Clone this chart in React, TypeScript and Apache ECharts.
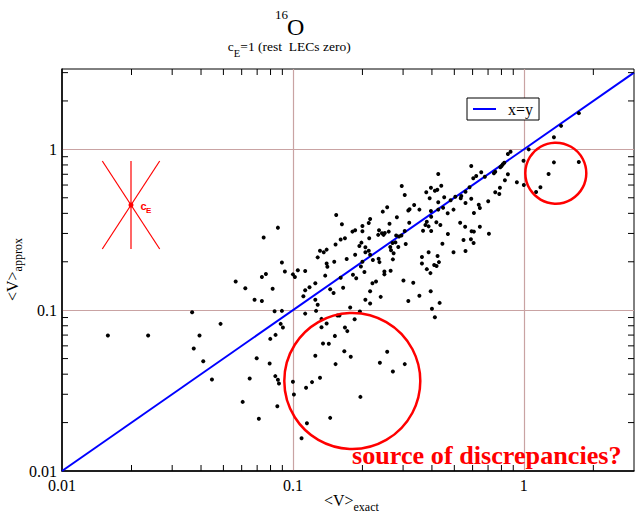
import React, { useEffect, useRef } from 'react';
import * as echarts from 'echarts';

// <V>_exact values of the points
const exactValues = [
  0.0158, 0.0236, 0.0366, 0.0394, 0.0486, 0.0372, 0.0409, 0.0446, 0.0565, 0.0622,
  0.0682, 0.0697, 0.065, 0.0606, 0.0712, 0.154, 0.163, 0.0861, 0.0747, 0.181,
  0.161, 0.168, 0.153, 0.131, 0.136, 0.140, 0.128, 0.171, 0.151, 0.140,
  0.141, 0.0896, 0.0923, 0.0764, 0.0734, 0.100, 0.102, 0.105, 0.113, 0.138,
  0.182, 0.161, 0.125, 0.118, 0.113, 0.145, 0.150, 0.165, 0.0817, 0.111,
  0.125, 0.128, 0.0734, 0.0833, 0.0896, 0.113, 0.126, 0.177, 0.133, 0.140,
  0.156, 0.159, 0.185, 0.426, 0.296, 0.305, 0.378, 0.396, 0.412, 0.422,
  0.439, 0.426, 0.391, 0.452, 0.447, 0.426, 0.396, 0.353, 0.335, 0.320,
  0.316, 0.256, 0.245, 0.282, 0.468, 0.397, 0.380, 0.375, 0.387, 0.418,
  0.435, 0.366, 0.397, 0.319, 0.262, 0.260, 0.247, 0.250, 0.243, 0.236,
  0.234, 0.216, 0.213, 0.200, 0.200, 0.186, 0.214, 0.280, 0.288, 0.295,
  0.305, 0.308, 0.264, 0.270, 0.278, 0.286, 0.198, 0.194, 0.206, 0.206,
  0.213, 0.216, 0.186, 0.266, 0.273, 0.271, 0.222, 0.235, 0.237, 0.200,
  0.197, 0.204, 0.188, 0.249, 0.249, 0.265, 0.362, 0.362, 0.387, 0.423,
  0.429, 0.409, 0.419, 0.469, 0.380, 0.394, 0.301, 0.332, 0.229, 0.221,
  0.216, 0.395, 0.353, 0.240, 0.206, 0.216, 0.316, 0.432, 0.400, 0.412,
  0.195, 0.876, 0.853, 1.05, 0.823, 0.811, 0.801, 0.791, 0.997, 0.752,
  0.742, 0.853, 0.592, 0.654, 0.622, 0.604, 0.678, 0.828, 0.933, 1.00,
  0.582, 0.788, 0.559, 0.752, 0.783, 1.13, 0.505, 0.536, 0.533, 0.592,
  0.482, 0.701, 0.559, 0.638, 0.645, 0.496, 0.608, 0.530, 0.557, 0.645,
  0.594, 0.608, 0.706, 0.548, 0.590, 0.606, 0.444, 0.496, 0.559, 1.73,
  1.45, 1.35, 1.35, 1.73, 1.28, 1.18, 0.0885, 0.0905, 0.133, 0.168,
  0.172, 0.0841, 0.0798, 0.152, 0.135, 0.143, 0.125, 0.167, 0.178, 0.256,
  0.238, 0.305, 0.271, 0.153, 0.0793, 0.0839, 0.0861, 0.0870, 0.100, 0.121,
  0.131, 0.114, 0.101, 0.196, 0.0856, 0.145, 0.115, 0.109,
];

// <V>_approx values of the same points
const approxValues = [
  0.0695, 0.0695, 0.0972, 0.0695, 0.0822, 0.0577, 0.0482, 0.0371, 0.151, 0.137,
  0.116, 0.0503, 0.0376, 0.0269, 0.0211, 0.391, 0.342, 0.326, 0.283, 0.308,
  0.275, 0.280, 0.256, 0.234, 0.229, 0.238, 0.213, 0.208, 0.200, 0.195,
  0.186, 0.198, 0.174, 0.168, 0.161, 0.167, 0.161, 0.177, 0.175, 0.164,
  0.166, 0.159, 0.147, 0.139, 0.133, 0.135, 0.128, 0.138, 0.136, 0.122,
  0.116, 0.108, 0.114, 0.0986, 0.099, 0.0952, 0.099, 0.104, 0.0883, 0.0826,
  0.0926, 0.0926, 0.0877, 0.703, 0.592, 0.520, 0.541, 0.577, 0.553, 0.560,
  0.594, 0.469, 0.496, 0.503, 0.434, 0.422, 0.414, 0.422, 0.451, 0.424,
  0.417, 0.436, 0.410, 0.378, 0.401, 0.381, 0.355, 0.339, 0.332, 0.352,
  0.339, 0.312, 0.311, 0.350, 0.345, 0.308, 0.294, 0.302, 0.301, 0.314,
  0.294, 0.369, 0.348, 0.334, 0.310, 0.314, 0.280, 0.291, 0.287, 0.291,
  0.311, 0.258, 0.247, 0.262, 0.264, 0.247, 0.263, 0.251, 0.246, 0.229,
  0.234, 0.221, 0.221, 0.236, 0.226, 0.207, 0.205, 0.209, 0.199, 0.200,
  0.187, 0.173, 0.158, 0.174, 0.167, 0.176, 0.214, 0.195, 0.229, 0.217,
  0.199, 0.191, 0.188, 0.298, 0.180, 0.170, 0.153, 0.148, 0.151, 0.147,
  0.131, 0.131, 0.123, 0.121, 0.116, 0.110, 0.114, 0.111, 0.102, 0.0905,
  0.098, 0.966, 0.935, 1.00, 0.826, 0.807, 0.787, 0.773, 0.850, 0.726,
  0.710, 0.700, 0.787, 0.720, 0.683, 0.661, 0.676, 0.642, 0.624, 0.600,
  0.581, 0.577, 0.545, 0.541, 0.528, 0.543, 0.508, 0.513, 0.496, 0.493,
  0.482, 0.475, 0.464, 0.453, 0.432, 0.422, 0.402, 0.350, 0.330, 0.330,
  0.310, 0.308, 0.299, 0.273, 0.276, 0.262, 0.259, 0.229, 0.233, 1.68,
  1.40, 1.19, 0.830, 0.834, 0.703, 0.581, 0.0822, 0.078, 0.0784, 0.078,
  0.0741, 0.0702, 0.0663, 0.0692, 0.0620, 0.0618, 0.0520, 0.0556, 0.0513, 0.0551,
  0.0471, 0.0462, 0.0416, 0.0462, 0.0466, 0.0389, 0.0369, 0.0350, 0.0359, 0.0357,
  0.0380, 0.0329, 0.0299, 0.0289, 0.0253, 0.0214, 0.0198, 0.0160,
];

// x = y reference line end points
const identityLine = [0.01, 3];

// axis ranges and tick values
const xRange = [0.01, 3];
const yRange = [0.01, 3.16];
const xMinorTicks = [0.02, 0.03, 0.04, 0.05, 0.06, 0.07, 0.08, 0.09, 0.2, 0.3, 0.4, 0.5, 0.6, 0.7, 0.8, 0.9, 2];
const yMinorTicks = [0.02, 0.03, 0.04, 0.05, 0.06, 0.07, 0.08, 0.09, 0.2, 0.3, 0.4, 0.5, 0.6, 0.7, 0.8, 0.9, 2, 3];
const tickLabels: Record<string, string> = { '-2': '0.01', '-1': '0.1', '0': '1' };

const SERIF = 'Liberation Serif, Times New Roman, serif';
const SANS = 'Liberation Sans, Arial, sans-serif';
const RED = '#ff0000';

function txt(x: number, y: number, text: string, size: number, extra: any = {}) {
  const { weight, family, fill, ...rest } = extra;
  return {
    type: 'text',
    x,
    y,
    ...rest,
    style: {
      text,
      fontFamily: family || SERIF,
      fontSize: size,
      fontWeight: weight || 'normal',
      fill: fill || '#000',
      verticalAlign: 'middle',
      align: 'left',
    },
  };
}

export default function App() {
  const ref = useRef<HTMLDivElement>(null);

  useEffect(() => {
    const chart = echarts.init(ref.current!, undefined, { renderer: 'svg' });
    const points = exactValues.map((x, i) => [x, approxValues[i]]);

    const labelFmt = (v: number) => {
      const l = Math.log10(v);
      const r = Math.round(l);
      if (Math.abs(l - r) > 1e-6) return '';
      return tickLabels[String(r)] ?? '';
    };

    const tickSeries = (values: number[], dir: 'x' | 'y') => ({
      type: 'custom',
      silent: true,
      z: 6,
      clip: false,
      data: values.map((v) => (dir === 'x' ? [v, 1] : [1, v])),
      renderItem: (params: any, api: any) => {
        const cs = params.coordSys;
        const L = 6;
        const st = { stroke: '#000', lineWidth: 1 };
        if (dir === 'x') {
          const x = api.coord([api.value(0), 1])[0];
          return {
            type: 'group',
            children: [
              { type: 'line', shape: { x1: x, y1: cs.y + cs.height, x2: x, y2: cs.y + cs.height - L }, style: st },
              { type: 'line', shape: { x1: x, y1: cs.y, x2: x, y2: cs.y + L }, style: st },
            ],
          };
        }
        const y = api.coord([1, api.value(1)])[1];
        return {
          type: 'group',
          children: [
            { type: 'line', shape: { x1: cs.x, y1: y, x2: cs.x + L, y2: y }, style: st },
            { type: 'line', shape: { x1: cs.x + cs.width, y1: y, x2: cs.x + cs.width - L, y2: y }, style: st },
          ],
        };
      },
    });

    const axisCommon = {
      type: 'log',
      logBase: 10,
      axisLine: { show: true, onZero: false, lineStyle: { color: '#000', width: 1.5 } },
      axisTick: { show: false },
      minorTick: { show: false },
      minorSplitLine: { show: false },
      splitLine: { show: true, showMinLine: false, showMaxLine: false, lineStyle: { color: '#c9a3a3', width: 1.2 } },
      axisLabel: {
        fontFamily: SERIF,
        fontSize: 16,
        color: '#000',
        formatter: labelFmt,
        showMinLabel: true,
        showMaxLabel: true,
      },
    };

    chart.setOption({
      animation: false,
      backgroundColor: '#fff',
      grid: { left: 62, right: 3, top: 69, bottom: 42, show: true, borderColor: '#000', borderWidth: 1 },
      xAxis: { ...axisCommon, min: xRange[0], max: xRange[1], axisLabel: { ...axisCommon.axisLabel, margin: 6 } },
      yAxis: { ...axisCommon, min: yRange[0], max: yRange[1], axisLabel: { ...axisCommon.axisLabel, margin: 5 } },
      legend: {
        data: [{ name: 'x=y', icon: 'rect' }],
        left: 467,
        top: 98,
        padding: [3, 6, 3, 6],
        borderColor: '#000',
        borderWidth: 1,
        borderRadius: 0,
        backgroundColor: '#fff',
        itemWidth: 23,
        itemHeight: 2,
        selectedMode: false,
        textStyle: { fontFamily: SERIF, fontSize: 16, color: '#000', padding: [0, 0, 0, 7], lineHeight: 15 },
      },
      series: [
        {
          type: 'line',
          name: 'x=y',
          data: identityLine.map((v) => [v, v]),
          symbol: 'none',
          itemStyle: { color: '#0000ff' },
          lineStyle: { color: '#0000ff', width: 2 },
          z: 3,
        },
        {
          type: 'scatter',
          name: 'points',
          data: points,
          symbol: 'circle',
          symbolSize: 4,
          itemStyle: { color: '#000', opacity: 1 },
          z: 4,
        },
        tickSeries(xMinorTicks, 'x'),
        tickSeries(yMinorTicks, 'y'),
      ],
      graphic: [
        // title
        txt(275, 14.5, '16', 13),
        txt(287, 26.8, 'O', 24),
        txt(227.7, 46.3, 'c', 13.5),
        txt(233.8, 53.7, 'E', 10.5),
        txt(240.3, 46.3, '=1 (rest  LECs zero)', 13.5),
        // x axis name
        txt(324, 500, '<V>', 16),
        txt(353.5, 506.7, 'exact', 12),
        // y axis name (rotated)
        {
          type: 'group',
          x: 12.5,
          y: 301,
          rotation: Math.PI / 2,
          children: [txt(0, 0, '<V>', 16), txt(29.6, 5, 'approx', 12)],
        },
        // c_E symbol
        { type: 'line', shape: { x1: 131, y1: 161, x2: 131, y2: 249 }, style: { stroke: RED, lineWidth: 1.2 } },
        { type: 'line', shape: { x1: 102.3, y1: 161, x2: 159.7, y2: 249 }, style: { stroke: RED, lineWidth: 1.2 } },
        { type: 'line', shape: { x1: 159.7, y1: 161, x2: 102.3, y2: 249 }, style: { stroke: RED, lineWidth: 1.2 } },
        { type: 'circle', shape: { cx: 131, cy: 205, r: 2.5 }, style: { fill: RED } },
        txt(140.5, 205.5, 'c', 11, { weight: 'bold', family: SANS, fill: RED }),
        txt(146, 210, 'E', 8, { weight: 'bold', family: SANS, fill: RED }),
        // annotations
        { type: 'circle', z: 10, shape: { cx: 352.3, cy: 381, r: 68 }, style: { fill: 'none', stroke: RED, lineWidth: 2.5 } },
        { type: 'circle', z: 10, shape: { cx: 555.8, cy: 173.2, r: 30.5 }, style: { fill: 'none', stroke: RED, lineWidth: 2.5 } },
        txt(352, 455.2, 'source of discrepancies?', 26.2, { weight: 'bold', fill: RED, z: 10 }),
      ],
    });

    return () => chart.dispose();
  }, []);

  return <div ref={ref} style={{ position: 'absolute', left: 0, top: 0, width: 637, height: 513 }} />;
}
